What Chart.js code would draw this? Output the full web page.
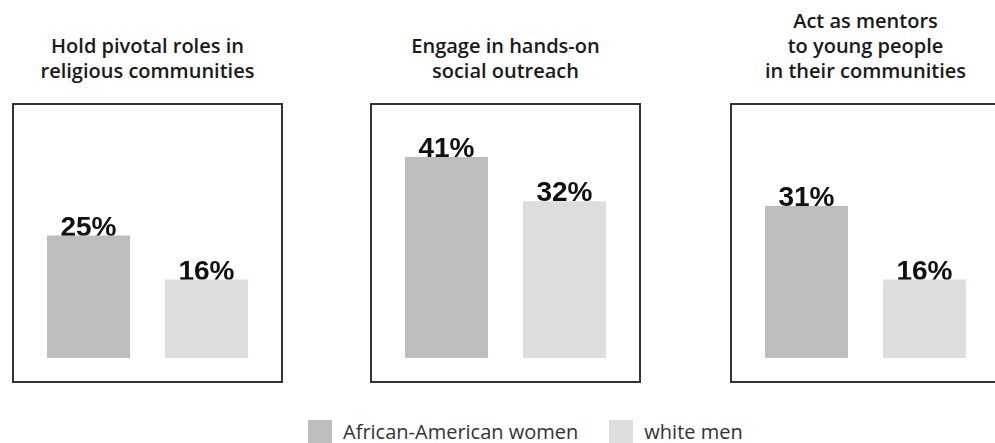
<!DOCTYPE html>
<html>
<head>
<meta charset="utf-8">
<script src="https://cdn.jsdelivr.net/npm/chart.js@4.4.0/dist/chart.umd.min.js"></script>
<style>
  body { margin: 0; background: #fff; }
  #page { position: relative; width: 995px; height: 443px; overflow: hidden; }
  .title { position: absolute; width: 271px; text-align: center; font-family: "Open Sans", sans-serif; font-weight: 600; font-size: 20px; line-height: 25px; color: #1a1a1a; white-space: nowrap; }
  .box { position: absolute; top: 103px; width: 267px; height: 276px; border: 2px solid #333; }
  .box canvas { display: block; }
  #legend { position: absolute; left: 308px; top: 420px; display: flex; align-items: center; font-family: "Open Sans", sans-serif; font-size: 20px; color: #333; }
  .swatch { width: 24px; height: 23px; margin-right: 11px; }
  .item { display: flex; align-items: center; margin-right: 31px; line-height: 23px; }
</style>
</head>
<body>
<div id="page"></div>
<script>
const groups = ['African-American women', 'white men'];
const panelTitles = [
  ['Hold pivotal roles in', 'religious communities'],
  ['Engage in hands-on', 'social outreach'],
  ['Act as mentors', 'to young people', 'in their communities']
];
const africanAmericanWomen = [25, 41, 31];
const whiteMen = [16, 32, 16];

const colors = ['#bcbdbf', '#dcdddf'];
const boxLefts = [12, 370, 730];

const page = document.getElementById('page');

// percent labels drawn before bars so the bar top covers the baseline
const valueLabels = {
  id: 'valueLabels',
  beforeDatasetsDraw(chart) {
    const ctx = chart.ctx;
    const meta = chart.getDatasetMeta(0);
    ctx.save();
    ctx.font = 'bold 28px "Liberation Sans", Arial, sans-serif';
    ctx.fillStyle = '#111';
    ctx.textAlign = 'center';
    ctx.textBaseline = 'alphabetic';
    meta.data.forEach((bar, i) => {
      ctx.fillText(chart.data.datasets[0].data[i] + '%', bar.x, bar.y);
    });
    ctx.restore();
  }
};

panelTitles.forEach((lines, p) => {
  const title = document.createElement('div');
  title.className = 'title';
  title.style.left = boxLefts[p] + 'px';
  title.style.top = (83 - 25 * lines.length) + 'px';
  title.innerHTML = lines.join('<br>');
  page.appendChild(title);

  const box = document.createElement('div');
  box.className = 'box';
  box.style.left = boxLefts[p] + 'px';
  const canvas = document.createElement('canvas');
  canvas.width = 267;
  canvas.height = 276;
  box.appendChild(canvas);
  page.appendChild(box);

  new Chart(canvas.getContext('2d'), {
    type: 'bar',
    data: {
      labels: groups,
      datasets: [{
        data: [africanAmericanWomen[p], whiteMen[p]],
        backgroundColor: colors,
        borderWidth: 0,
        barPercentage: 0.703,
        categoryPercentage: 1
      }]
    },
    options: {
      responsive: false,
      animation: false,
      layout: { padding: { left: 15.5, right: 15.5, top: 8, bottom: 23 } },
      scales: {
        x: { display: false },
        y: { display: false, min: 0, max: 50 }
      },
      plugins: {
        legend: { display: false },
        tooltip: { enabled: false }
      }
    },
    plugins: [valueLabels]
  });
});

const legend = document.createElement('div');
legend.id = 'legend';
groups.forEach((g, i) => {
  const item = document.createElement('div');
  item.className = 'item';
  item.innerHTML = '<div class="swatch" style="background:' + colors[i] + '"></div><span>' + g + '</span>';
  legend.appendChild(item);
});
page.appendChild(legend);
</script>
</body>
</html>
